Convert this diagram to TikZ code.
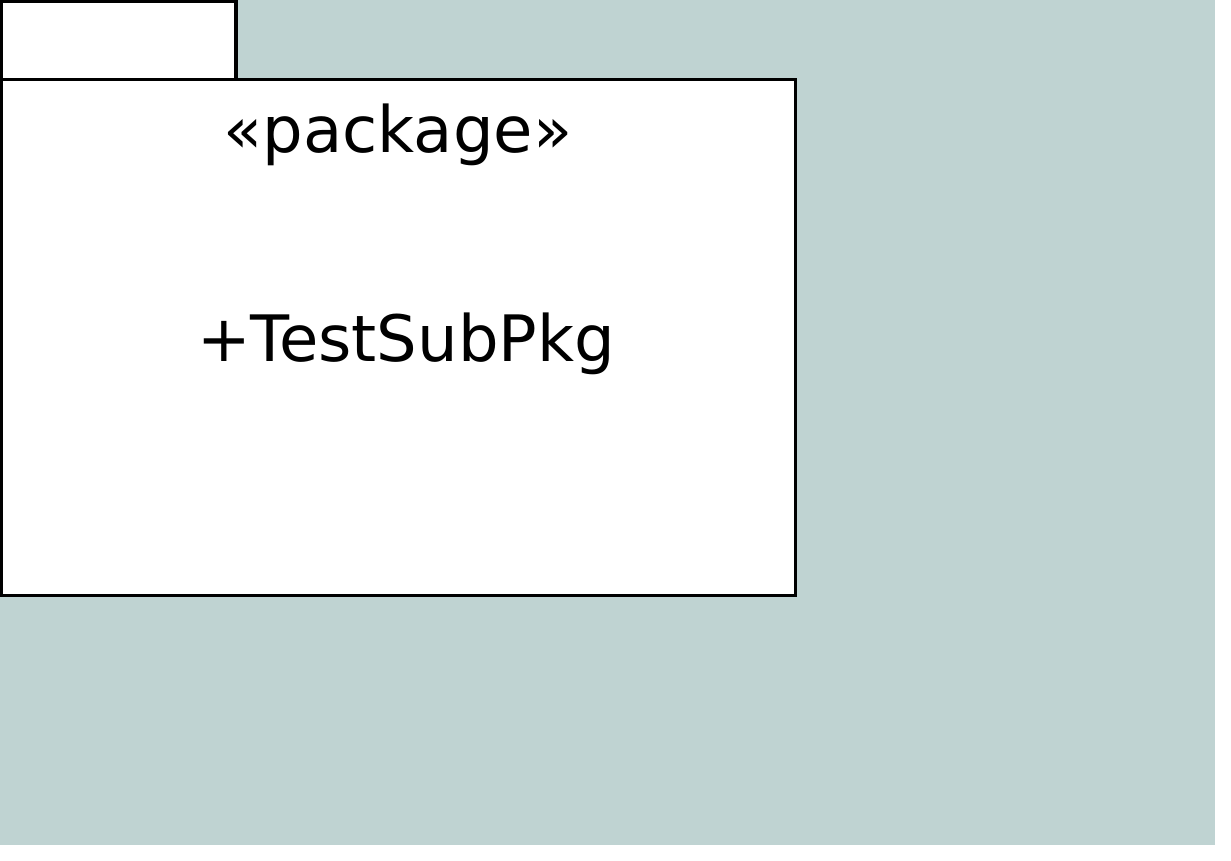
\documentclass[tikz,border=0pt]{standalone}
\usepackage{fontspec}
\setmainfont{DejaVu Sans}
\definecolor{canvas}{RGB}{191,211,210}
\tikzset{
  pkgline/.style={draw=black, line width=3.5pt, fill=white},
  pkgtext/.style={font=\fontsize{64}{72}\selectfont, anchor=base, inner sep=0pt}
}
\begin{document}
\begin{tikzpicture}[x=1pt,y=-1pt]
  % page with a coloured canvas
  \fill[white] (0,0) rectangle (1231,861);
  \useasboundingbox (0,0) rectangle (1231,861);
  \fill[canvas] (0,0) rectangle (1215,845);
  % package tab and body
  \draw[pkgline] (1.5,1.5) rectangle (236,79.5);
  \draw[pkgline] (1.5,79.5) rectangle (795.5,595.5);
  % labels
  \node[pkgtext] (stereo) at (398,153) {«package»};
  \node[pkgtext] (member) at (406,361) {+TestSubPkg};
\end{tikzpicture}
\end{document}
